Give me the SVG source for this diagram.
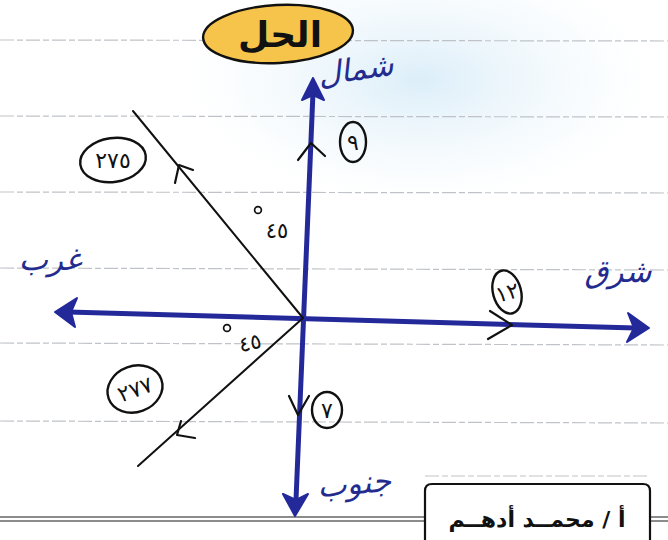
<svg xmlns="http://www.w3.org/2000/svg" width="668" height="540" viewBox="0 0 668 540">
<defs>
<radialGradient id="tint" cx="0.5" cy="0.5" r="0.5">
<stop offset="0" stop-color="#d8ecf8" stop-opacity="0.9"/>
<stop offset="1" stop-color="#e8f4fb" stop-opacity="0"/>
</radialGradient>
<style>
.rule{stroke:#bfc3c8;stroke-width:1.2;stroke-dasharray:14 3 6 3;fill:none}
.axis{stroke:#24299a;stroke-width:5;fill:none;stroke-linecap:round}
.head{fill:#24299a;stroke:#24299a;stroke-width:2;stroke-linejoin:round}
.thin{stroke:#111;stroke-width:2;fill:none;stroke-linecap:round;stroke-linejoin:round}
.chev{stroke:#111;stroke-width:2.2;fill:none;stroke-linecap:round;stroke-linejoin:round}
.ring{stroke:#111;stroke-width:2.4;fill:none}
.num{font-family:"DejaVu Sans",sans-serif;font-size:22px;fill:#111;text-anchor:middle}
.deg{font-family:"DejaVu Sans",sans-serif;font-size:21px;fill:#111;text-anchor:middle}
.dir{font-family:"DejaVu Sans",sans-serif;font-size:31px;fill:#232c8e;font-style:italic;text-anchor:middle}
</style>
</defs>
<rect width="668" height="540" fill="#ffffff"/>
<ellipse cx="420" cy="80" rx="230" ry="120" fill="url(#tint)"/>
<g id="ruled-lines">
<line class="rule" x1="0" y1="40" x2="668" y2="41"/>
<line class="rule" x1="0" y1="116" x2="668" y2="117"/>
<line class="rule" x1="0" y1="192" x2="668" y2="193"/>
<line class="rule" x1="0" y1="268" x2="668" y2="270"/>
<line class="rule" x1="0" y1="343" x2="668" y2="345"/>
<line class="rule" x1="0" y1="421" x2="668" y2="423"/>
<line class="rule" x1="425" y1="476" x2="650" y2="476"/>
<line x1="0" y1="517" x2="425" y2="517" stroke="#666" stroke-width="1.5"/>
<line x1="0" y1="521" x2="425" y2="521" stroke="#666" stroke-width="1.5"/>
<line x1="650" y1="517" x2="668" y2="517" stroke="#666" stroke-width="1.5"/>
<line x1="650" y1="521" x2="668" y2="521" stroke="#666" stroke-width="1.5"/>
</g>
<g id="title">
<ellipse cx="278" cy="34" rx="75" ry="29" fill="#f6c44a" stroke="#111" stroke-width="2.4" transform="rotate(-3 278 34)"/>
<text x="280" y="47" font-family="DejaVu Sans,sans-serif" font-size="36" font-weight="bold" fill="#111" text-anchor="middle">الحل</text>
</g>
<g id="connectors">
<line class="axis" x1="313" y1="92" x2="296" y2="500"/>
<line class="axis" x1="68" y1="312" x2="636" y2="328"/>
<polygon class="head" points="313,78 302,100 313,95 324,100"/>
<polygon class="head" points="295,516 283,494 296,500 308,494"/>
<polygon class="head" points="55,312 77,298 71,312 75,327"/>
<polygon class="head" points="649,328 628,313 634,328 627,342"/>
<polyline class="chev" points="298,160 311,143 325,156"/>
<polyline class="chev" points="289,396 298,415 309,396"/>
<polyline class="chev" points="490,311 512,325 488,339"/>
<line class="thin" x1="133" y1="111" x2="303" y2="318"/>
<line class="thin" x1="303" y1="318" x2="138" y2="466"/>
<polyline class="chev" points="175,183 179,165 193,170"/>
<polyline class="chev" points="181,421 177,435 195,438"/>
</g>
<g id="north">
<text class="dir" x="357" y="80" transform="rotate(-8 357 80)">شمال</text>
</g>
<g id="west">
<text class="dir" x="50" y="270">غرب</text>
</g>
<g id="east">
<text class="dir" x="618" y="282">شرق</text>
</g>
<g id="south">
<text class="dir" x="355" y="494" transform="rotate(-5 355 494)">جنوب</text>
</g>
<g id="label-275">
<ellipse class="ring" cx="113" cy="160" rx="33" ry="22" transform="rotate(-8 113 160)"/>
<text class="num" x="113" y="168">٢٧٥</text>
</g>
<g id="label-9">
<ellipse class="ring" cx="353" cy="142" rx="13" ry="20"/>
<text class="num" x="353" y="150">٩</text>
</g>
<g id="label-12">
<ellipse class="ring" cx="507" cy="292" rx="14" ry="22" transform="rotate(-15 507 292)"/>
<text class="num" x="507" y="300" transform="rotate(-15 507 292)">١٢</text>
</g>
<g id="label-7">
<ellipse class="ring" cx="327" cy="410" rx="15" ry="18"/>
<text class="num" x="327" y="418">٧</text>
</g>
<g id="label-277">
<ellipse class="ring" cx="135" cy="389" rx="28" ry="23" transform="rotate(-20 135 389)"/>
<text class="num" x="135" y="397" transform="rotate(-20 135 389)">٢٧٧</text>
</g>
<g id="angle-top">
<text class="deg" x="277" y="238">٤٥</text>
<circle cx="258" cy="210" r="3.4" fill="none" stroke="#111" stroke-width="1.7"/>
</g>
<g id="angle-bottom">
<text class="deg" x="250" y="350" transform="rotate(-12 250 343)">٤٥</text>
<circle cx="227" cy="328" r="3.4" fill="none" stroke="#111" stroke-width="1.7"/>
</g>
<g id="author">
<path d="M425,545 L425,491 Q425,484 432,484 L643,484 Q650,484 650,491 L650,545" fill="#ffffff" stroke="#111" stroke-width="2.2"/>
<text x="537" y="527" font-family="DejaVu Sans,sans-serif" font-size="22" font-weight="bold" fill="#111" text-anchor="middle">أ / محمــد أدهــم</text>
</g>
</svg>
